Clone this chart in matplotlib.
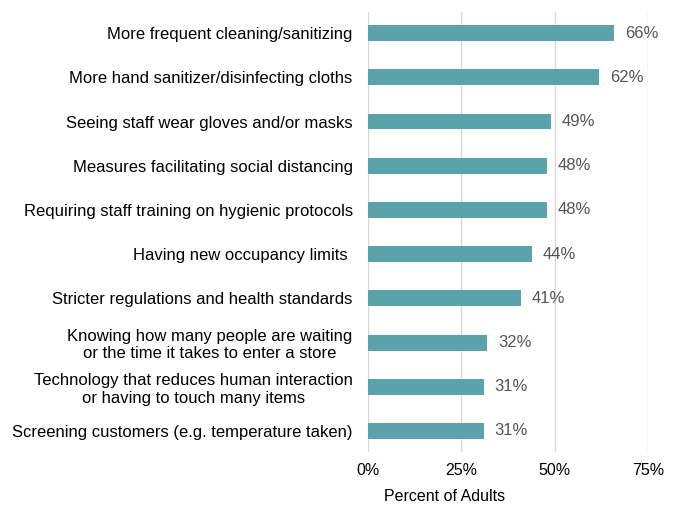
import matplotlib
matplotlib.use("Agg")
import matplotlib.pyplot as plt
from matplotlib.ticker import FuncFormatter

measures = [
    "More frequent cleaning/sanitizing",
    "More hand sanitizer/disinfecting cloths",
    "Seeing staff wear gloves and/or masks",
    "Measures facilitating social distancing",
    "Requiring staff training on hygienic protocols",
    "Having new occupancy limits ",
    "Stricter regulations and health standards",
    "Knowing how many people are waiting\nor the time it takes to enter a store",
    "Technology that reduces human interaction\nor having to touch many items",
    "Screening customers (e.g. temperature taken)",
]
pct = [66, 62, 49, 48, 48, 44, 41, 32, 31, 31]
x_ticks = [0, 25, 50, 75]

plt.rcParams["font.family"] = ["Liberation Sans", "DejaVu Sans"]

fig = plt.figure(figsize=(6.78, 5.05), dpi=100)
ax = fig.add_axes([0.5428, 0.105, 0.413, 0.871])

bar_color = "#5ca2ab"
y = list(range(len(measures)))
ax.barh(y, pct, height=0.36, color=bar_color, zorder=3)

for yi, v in zip(y, pct):
    ax.text(v + 2.8, yi, f"{v}%", va="center", ha="left",
            fontsize=12, color="#555555")

ax.set_xlim(0, 75)
ax.set_ylim(len(measures) - 0.525, -0.475)
ax.set_xticks(x_ticks)
ax.xaxis.set_major_formatter(FuncFormatter(lambda v, _: f"{v:.0f}%"))
ax.set_yticks(y)
ax.set_yticklabels(measures, fontsize=12, linespacing=1.2,
                   multialignment="center")
ax.tick_params(axis="y", length=0, pad=11)
ax.tick_params(axis="x", length=0, pad=8, labelsize=11.5)

ax.grid(True, axis="x", color="#d9d9d9", linewidth=1.0, zorder=0)
ax.set_axisbelow(True)
for spine in ax.spines.values():
    spine.set_visible(False)

# axis title sits left of centre, just under the tick labels
ax.text(0.275, -0.102, "Percent of Adults", transform=ax.transAxes,
        ha="center", va="center", fontsize=11.5)

fig.savefig("out.png", dpi=100)
